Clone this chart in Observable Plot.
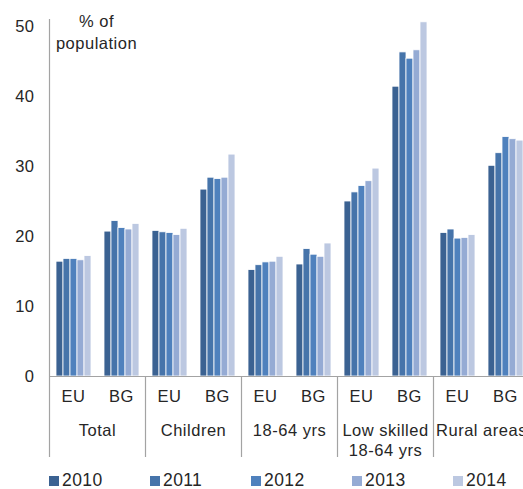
<!DOCTYPE html>
<html>
<head>
<meta charset="utf-8">
<script src="https://cdn.jsdelivr.net/npm/d3@7"></script>
<script src="https://cdn.jsdelivr.net/npm/@observablehq/plot@0.6"></script>
<style>
html, body { margin: 0; padding: 0; background: #fff; overflow: hidden; }
#chart { width: 529px; }
.lg-swatches { margin: 0 0 0 49px !important; min-height: 19px !important; flex-wrap: nowrap !important; font-family: 'Liberation Sans', Arial, sans-serif !important; font-size: 17.5px !important; letter-spacing: 0.4px; color: #262626 !important; }
.lg-swatch { margin-right: 0 !important; width: 101px; flex: 0 0 101px; }
.lg-swatch > svg { margin-right: 3px !important; }
</style>
</head>
<body>
<div id="chart"></div>
<script>
const groups = ["Total", "Children", "18-64 yrs", "Low skilled\n18-64 yrs", "Rural areas"];
const countries = ["EU", "BG"];
const years = ["2010", "2011", "2012", "2013", "2014"];
const colors = ["#3b6292", "#4674aa", "#4f81bd", "#95abd4", "#bcc8e1"];
const yTicks = [0, 10, 20, 30, 40, 50];
const yLabel = "% of\npopulation";

// order: Total EU, Total BG, Children EU, Children BG, 18-64 EU, 18-64 BG, Low EU, Low BG, Rural EU, Rural BG
const v2010 = [16.4, 20.7, 20.8, 26.7, 15.2, 16.0, 25.0, 41.4, 20.5, 30.1];
const v2011 = [16.8, 22.2, 20.6, 28.4, 15.9, 18.2, 26.3, 46.3, 21.0, 31.9];
const v2012 = [16.8, 21.2, 20.5, 28.2, 16.3, 17.4, 27.2, 45.4, 19.7, 34.2];
const v2013 = [16.6, 21.0, 20.2, 28.4, 16.4, 17.1, 27.9, 46.6, 19.8, 33.9];
const v2014 = [17.2, 21.8, 21.1, 31.7, 17.1, 19.0, 29.7, 50.6, 20.2, 33.7];
const series = [v2010, v2011, v2012, v2013, v2014];

const keys = groups.flatMap((g, gi) => countries.map(c => gi + "|" + c));
const data = [];
years.forEach((yr, yi) => keys.forEach((k, ki) => data.push({key: k, year: yr, value: series[yi][ki]})));
const groupData = groups.map((g, gi) => ({key: gi + "|" + countries[0], label: g}));

const axisColor = "#a3a3a3";
const font = "'Liberation Sans', Arial, sans-serif";

const plot = Plot.plot({
  width: 529,
  height: 470,
  marginLeft: 49,
  marginRight: 0,
  marginTop: 19,
  marginBottom: 94,
  style: {fontFamily: font, fontSize: "16.5px", letterSpacing: "0.5px", color: "#262626", background: "white", overflow: "visible"},
  fx: {domain: keys, padding: 0, axis: "bottom", tickSize: 0, tickPadding: 14, tickFormat: k => k.split("|")[1], label: null},
  x: {domain: years, paddingInner: 0, paddingOuter: 0.743, axis: null},
  y: {domain: [0, 50], insetTop: 7, ticks: yTicks, tickSize: 0, tickPadding: 15, label: null},
  color: {domain: years, range: colors},
  marks: [
    Plot.barY(data, {fx: "key", x: "year", y: "value", fill: "year", stroke: "white", strokeWidth: 0.8}),
    Plot.ruleY([0], {stroke: axisColor, strokeWidth: 1.2}),
    Plot.ruleX([keys[0]], {fx: d => d, x: null, dx: -24, stroke: axisColor, strokeWidth: 1.2}),
    Plot.ruleX(groupData, {fx: "key", x: null, dx: -24, y1: 0, insetBottom: -81, stroke: axisColor, strokeWidth: 1.2}),
    Plot.text(groupData, {fx: "key", text: "label", frameAnchor: "bottom", dx: 24, dy: 45, lineAnchor: "top", lineHeight: 1.21}),
    Plot.text([yLabel], {fx: () => keys[0], frameAnchor: "top", dx: 23, dy: -8.5, lineAnchor: "top", lineHeight: 1.33})
  ]
});

const legend = Plot.legend({
  color: {type: "ordinal", domain: years, range: colors},
  legend: "swatches",
  swatchSize: 10,
  className: "lg"
});

const chart = document.getElementById("chart");
chart.appendChild(plot);
chart.appendChild(legend);
</script>
</body>
</html>
